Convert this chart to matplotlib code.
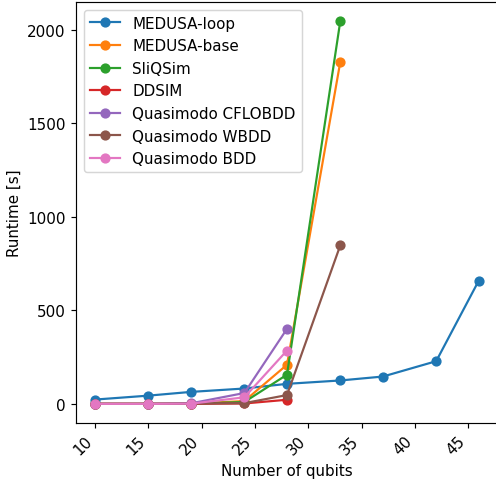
import matplotlib
matplotlib.use("Agg")
import matplotlib.pyplot as plt

# qubit counts per simulator
qubits_loop = [10, 15, 19, 24, 28, 33, 37, 42, 46]
qubits_base = [10, 15, 19, 24, 28, 33]
qubits_short = [10, 15, 19, 24, 28]

medusa_loop = [23, 44, 64, 82, 107, 125, 146, 228, 659]
medusa_base = [0, 0, 1, 15, 209, 1827]
sliqsim = [0, 0, 1, 10, 156, 2045]
ddsim = [0, 0, 0, 2, 22]
quasi_cflobdd = [0, 0, 3, 58, 401]
quasi_wbdd = [0, 0, 1, 4, 47, 847]
quasi_bdd = [0, 0, 1, 35, 285]

series = [
    ("MEDUSA-loop", qubits_loop, medusa_loop),
    ("MEDUSA-base", qubits_base, medusa_base),
    ("SliQSim", qubits_base, sliqsim),
    ("DDSIM", qubits_short, ddsim),
    ("Quasimodo CFLOBDD", qubits_short, quasi_cflobdd),
    ("Quasimodo WBDD", qubits_base, quasi_wbdd),
    ("Quasimodo BDD", qubits_short, quasi_bdd),
]

plt.rcParams['font.size'] = 10.4

fig = plt.figure(figsize=(496 / 105, 481 / 105), dpi=105)
ax = fig.add_axes([76 / 496, 57 / 481, 422 / 496, 421 / 481])

for label, xs, ys in series:
    ax.plot(xs, ys, marker='o', label=label)

ax.set_xticks([10, 15, 20, 25, 30, 35, 40, 45])
ax.set_yticks([0, 500, 1000, 1500, 2000])
plt.setp(ax.get_xticklabels(), rotation=45, ha='right')
ax.set_xlabel('Number of qubits')
ax.set_ylabel('Runtime [s]')
ax.legend(loc='upper left')

fig.savefig('out.png', dpi=105)
